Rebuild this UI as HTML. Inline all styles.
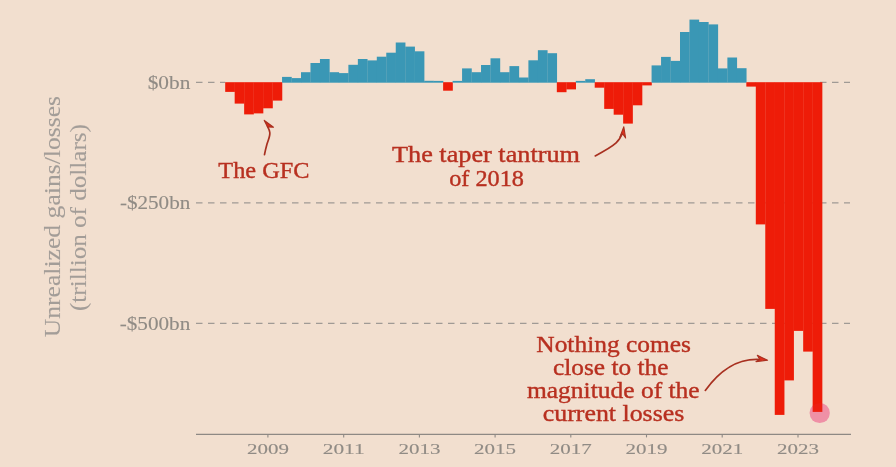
<!DOCTYPE html>
<html lang="en"><head><meta charset="utf-8"><title>Unrealized gains/losses</title>
<style>
html,body{margin:0;padding:0;background:#f2dfcf;}
body{width:896px;height:467px;overflow:hidden;}
svg{display:block;font-family:"Liberation Serif", "DejaVu Serif", serif;}
</style></head><body>
<svg width="896" height="467" viewBox="0 0 896 467">
<rect width="896" height="467" fill="#f2dfcf"/>
<g stroke="#a09a95" stroke-width="1.35" stroke-dasharray="6.5 5.5" fill="none">
<line x1="196" y1="82.4" x2="225.2" y2="82.4"/>
<line x1="820" y1="82.4" x2="850" y2="82.4"/>
<line x1="196" y1="202.8" x2="850" y2="202.8"/>
<line x1="196" y1="323.3" x2="850" y2="323.3"/>
</g>
<circle cx="819.7" cy="413" r="10.1" fill="#f09aae"/>
<g>
<rect x="225.20" y="82.20" width="9.695" height="9.70" fill="#ee1c08"/>
<rect x="234.67" y="82.20" width="9.695" height="21.40" fill="#ee1c08"/>
<rect x="244.15" y="82.20" width="9.695" height="32.20" fill="#ee1c08"/>
<rect x="253.62" y="82.20" width="9.695" height="31.20" fill="#ee1c08"/>
<rect x="263.10" y="82.20" width="9.695" height="26.10" fill="#ee1c08"/>
<rect x="272.57" y="82.20" width="9.695" height="18.40" fill="#ee1c08"/>
<rect x="282.05" y="76.90" width="9.695" height="5.80" fill="#3a97b5"/>
<rect x="291.52" y="78.10" width="9.695" height="4.60" fill="#3a97b5"/>
<rect x="301.00" y="72.20" width="9.695" height="10.50" fill="#3a97b5"/>
<rect x="310.47" y="63.00" width="9.695" height="19.70" fill="#3a97b5"/>
<rect x="319.95" y="59.00" width="9.695" height="23.70" fill="#3a97b5"/>
<rect x="329.42" y="72.20" width="9.695" height="10.50" fill="#3a97b5"/>
<rect x="338.90" y="73.10" width="9.695" height="9.60" fill="#3a97b5"/>
<rect x="348.38" y="64.80" width="9.695" height="17.90" fill="#3a97b5"/>
<rect x="357.85" y="59.00" width="9.695" height="23.70" fill="#3a97b5"/>
<rect x="367.32" y="60.40" width="9.695" height="22.30" fill="#3a97b5"/>
<rect x="376.80" y="56.70" width="9.695" height="26.00" fill="#3a97b5"/>
<rect x="386.27" y="52.70" width="9.695" height="30.00" fill="#3a97b5"/>
<rect x="395.75" y="42.50" width="9.695" height="40.20" fill="#3a97b5"/>
<rect x="405.23" y="46.60" width="9.695" height="36.10" fill="#3a97b5"/>
<rect x="414.70" y="51.30" width="9.695" height="31.40" fill="#3a97b5"/>
<rect x="424.17" y="80.80" width="9.695" height="1.90" fill="#3a97b5"/>
<rect x="433.65" y="80.90" width="9.695" height="1.80" fill="#3a97b5"/>
<rect x="443.12" y="82.20" width="9.695" height="8.50" fill="#ee1c08"/>
<rect x="452.60" y="80.90" width="9.695" height="1.80" fill="#3a97b5"/>
<rect x="462.07" y="68.40" width="9.695" height="14.30" fill="#3a97b5"/>
<rect x="471.55" y="72.20" width="9.695" height="10.50" fill="#3a97b5"/>
<rect x="481.02" y="65.00" width="9.695" height="17.70" fill="#3a97b5"/>
<rect x="490.50" y="58.30" width="9.695" height="24.40" fill="#3a97b5"/>
<rect x="499.97" y="72.20" width="9.695" height="10.50" fill="#3a97b5"/>
<rect x="509.45" y="66.10" width="9.695" height="16.60" fill="#3a97b5"/>
<rect x="518.92" y="77.50" width="9.695" height="5.20" fill="#3a97b5"/>
<rect x="528.40" y="60.30" width="9.695" height="22.40" fill="#3a97b5"/>
<rect x="537.88" y="50.20" width="9.695" height="32.50" fill="#3a97b5"/>
<rect x="547.35" y="53.20" width="9.695" height="29.50" fill="#3a97b5"/>
<rect x="556.83" y="82.20" width="9.695" height="10.00" fill="#ee1c08"/>
<rect x="566.30" y="82.20" width="9.695" height="7.20" fill="#ee1c08"/>
<rect x="575.77" y="80.90" width="9.695" height="1.80" fill="#3a97b5"/>
<rect x="585.25" y="79.20" width="9.695" height="3.50" fill="#3a97b5"/>
<rect x="594.72" y="82.20" width="9.695" height="5.50" fill="#ee1c08"/>
<rect x="604.20" y="82.20" width="9.695" height="26.70" fill="#ee1c08"/>
<rect x="613.67" y="82.20" width="9.695" height="32.50" fill="#ee1c08"/>
<rect x="623.15" y="82.20" width="9.695" height="41.40" fill="#ee1c08"/>
<rect x="632.62" y="82.20" width="9.695" height="23.10" fill="#ee1c08"/>
<rect x="642.10" y="82.20" width="9.695" height="3.20" fill="#ee1c08"/>
<rect x="651.58" y="65.40" width="9.695" height="17.30" fill="#3a97b5"/>
<rect x="661.05" y="56.90" width="9.695" height="25.80" fill="#3a97b5"/>
<rect x="670.52" y="60.90" width="9.695" height="21.80" fill="#3a97b5"/>
<rect x="680.00" y="32.00" width="9.695" height="50.70" fill="#3a97b5"/>
<rect x="689.47" y="19.60" width="9.695" height="63.10" fill="#3a97b5"/>
<rect x="698.95" y="22.00" width="9.695" height="60.70" fill="#3a97b5"/>
<rect x="708.42" y="24.40" width="9.695" height="58.30" fill="#3a97b5"/>
<rect x="717.90" y="68.40" width="9.695" height="14.30" fill="#3a97b5"/>
<rect x="727.38" y="57.50" width="9.695" height="25.20" fill="#3a97b5"/>
<rect x="736.85" y="68.20" width="9.695" height="14.50" fill="#3a97b5"/>
<rect x="746.33" y="82.20" width="9.695" height="4.40" fill="#ee1c08"/>
<rect x="755.80" y="82.20" width="9.695" height="142.20" fill="#ee1c08"/>
<rect x="765.27" y="82.20" width="9.695" height="226.70" fill="#ee1c08"/>
<rect x="774.75" y="82.20" width="9.695" height="332.70" fill="#ee1c08"/>
<rect x="784.22" y="82.20" width="9.695" height="298.20" fill="#ee1c08"/>
<rect x="793.70" y="82.20" width="9.695" height="248.70" fill="#ee1c08"/>
<rect x="803.17" y="82.20" width="9.695" height="269.40" fill="#ee1c08"/>
<rect x="812.65" y="82.20" width="9.695" height="329.70" fill="#ee1c08"/>
</g>
<circle cx="819.7" cy="413" r="10.1" fill="#ee3a5e" fill-opacity="0.1"/>
<line x1="196" y1="434.4" x2="851" y2="434.4" stroke="#8e8984" stroke-width="1.1"/>
<line x1="267.9" y1="434.4" x2="267.9" y2="437.4" stroke="#8e8984" stroke-width="1.1"/>
<text x="267.9" y="453.8" text-anchor="middle" font-size="15.6" stroke="#908b85" stroke-width="0.12" textLength="42" lengthAdjust="spacingAndGlyphs" fill="#908b85">2009</text>
<line x1="343.7" y1="434.4" x2="343.7" y2="437.4" stroke="#8e8984" stroke-width="1.1"/>
<text x="343.7" y="453.8" text-anchor="middle" font-size="15.6" stroke="#908b85" stroke-width="0.12" textLength="42" lengthAdjust="spacingAndGlyphs" fill="#908b85">2011</text>
<line x1="419.4" y1="434.4" x2="419.4" y2="437.4" stroke="#8e8984" stroke-width="1.1"/>
<text x="419.4" y="453.8" text-anchor="middle" font-size="15.6" stroke="#908b85" stroke-width="0.12" textLength="42" lengthAdjust="spacingAndGlyphs" fill="#908b85">2013</text>
<line x1="495.1" y1="434.4" x2="495.1" y2="437.4" stroke="#8e8984" stroke-width="1.1"/>
<text x="495.1" y="453.8" text-anchor="middle" font-size="15.6" stroke="#908b85" stroke-width="0.12" textLength="42" lengthAdjust="spacingAndGlyphs" fill="#908b85">2015</text>
<line x1="570.8" y1="434.4" x2="570.8" y2="437.4" stroke="#8e8984" stroke-width="1.1"/>
<text x="570.8" y="453.8" text-anchor="middle" font-size="15.6" stroke="#908b85" stroke-width="0.12" textLength="42" lengthAdjust="spacingAndGlyphs" fill="#908b85">2017</text>
<line x1="646.5" y1="434.4" x2="646.5" y2="437.4" stroke="#8e8984" stroke-width="1.1"/>
<text x="646.5" y="453.8" text-anchor="middle" font-size="15.6" stroke="#908b85" stroke-width="0.12" textLength="42" lengthAdjust="spacingAndGlyphs" fill="#908b85">2019</text>
<line x1="722.2" y1="434.4" x2="722.2" y2="437.4" stroke="#8e8984" stroke-width="1.1"/>
<text x="722.2" y="453.8" text-anchor="middle" font-size="15.6" stroke="#908b85" stroke-width="0.12" textLength="42" lengthAdjust="spacingAndGlyphs" fill="#908b85">2021</text>
<line x1="798.0" y1="434.4" x2="798.0" y2="437.4" stroke="#8e8984" stroke-width="1.1"/>
<text x="798.0" y="453.8" text-anchor="middle" font-size="15.6" stroke="#908b85" stroke-width="0.12" textLength="42" lengthAdjust="spacingAndGlyphs" fill="#908b85">2023</text>

<g>
<text x="190.3" y="88.8" font-size="18.6" textLength="42.6" lengthAdjust="spacingAndGlyphs" fill="#908b85" stroke="#908b85" stroke-width="0.12" text-anchor="end" >$0bn</text>

<text x="190.3" y="209.4" font-size="18.6" textLength="70.4" lengthAdjust="spacingAndGlyphs" fill="#908b85" stroke="#908b85" stroke-width="0.12" text-anchor="end" >-$250bn</text>

<text x="190.3" y="329.8" font-size="18.6" textLength="70.6" lengthAdjust="spacingAndGlyphs" fill="#908b85" stroke="#908b85" stroke-width="0.12" text-anchor="end" >-$500bn</text>

</g>
<g transform="translate(60,216.5) rotate(-90)">
<text x="-0.1" y="0" font-size="22.6" textLength="241.4" lengthAdjust="spacingAndGlyphs" fill="#a39d98" stroke="#a39d98" stroke-width="0.1" text-anchor="middle" >Unrealized gains/losses</text>

<text x="-1.0" y="26" font-size="22.6" textLength="187" lengthAdjust="spacingAndGlyphs" fill="#a39d98" stroke="#a39d98" stroke-width="0.1" text-anchor="middle" >(trillion of dollars)</text>

</g>
<g>
<text x="218.3" y="178.1" font-size="23.6" textLength="91.2" lengthAdjust="spacingAndGlyphs" fill="#b83020" stroke="#b83020" stroke-width="0.4" text-anchor="start" >The GFC</text>

<text x="392.0" y="162.3" font-size="23.6" textLength="188.0" lengthAdjust="spacingAndGlyphs" fill="#b83020" stroke="#b83020" stroke-width="0.4" text-anchor="start" >The taper tantrum</text>

<text x="449.2" y="185.9" font-size="23.6" textLength="74.8" lengthAdjust="spacingAndGlyphs" fill="#b83020" stroke="#b83020" stroke-width="0.4" text-anchor="start" >of 2018</text>

<text x="536.3" y="352.2" font-size="23.6" textLength="154.6" lengthAdjust="spacingAndGlyphs" fill="#b83020" stroke="#b83020" stroke-width="0.4" text-anchor="start" >Nothing comes</text>

<text x="553.0" y="375.0" font-size="23.6" textLength="115.4" lengthAdjust="spacingAndGlyphs" fill="#b83020" stroke="#b83020" stroke-width="0.4" text-anchor="start" >close to the</text>

<text x="526.9" y="397.7" font-size="23.6" textLength="172.8" lengthAdjust="spacingAndGlyphs" fill="#b83020" stroke="#b83020" stroke-width="0.4" text-anchor="start" >magnitude of the</text>

<text x="542.8" y="421.0" font-size="23.6" textLength="141.5" lengthAdjust="spacingAndGlyphs" fill="#b83020" stroke="#b83020" stroke-width="0.4" text-anchor="start" >current losses</text>

</g>
<g fill="none" stroke="#a83020" stroke-width="1.7" stroke-linecap="round" stroke-linejoin="round">
<path d="M264.5 154.6 C265.3 150.5 266.2 147 267 144.1 C268.3 139.5 270.3 136 269.8 132.5 C269.5 130.3 268.6 128.4 267.6 126.6"/>
<path d="M264.3 120.4 L273.5 127.2 L267.6 127 Z" fill="#d82c1a" stroke-width="1.2"/>
<path d="M595.2 155.9 C603 151.8 611 147.5 616.1 142.9 C619.5 139.8 621.3 136 622.4 132.5"/>
<path d="M623.8 126.8 L625.6 138 L622.6 133.8 L619.9 137.3 Z" fill="#e0301c" stroke-width="1.1"/>
<path d="M705.3 390.4 C718 373 735 357.5 761 359.6"/>
<path d="M767.6 360.3 L757.3 355.2 L759.8 359.5 L756 361.6 Z" fill="#e0301c" stroke-width="1.1"/>
</g>
</svg>
</body></html>
